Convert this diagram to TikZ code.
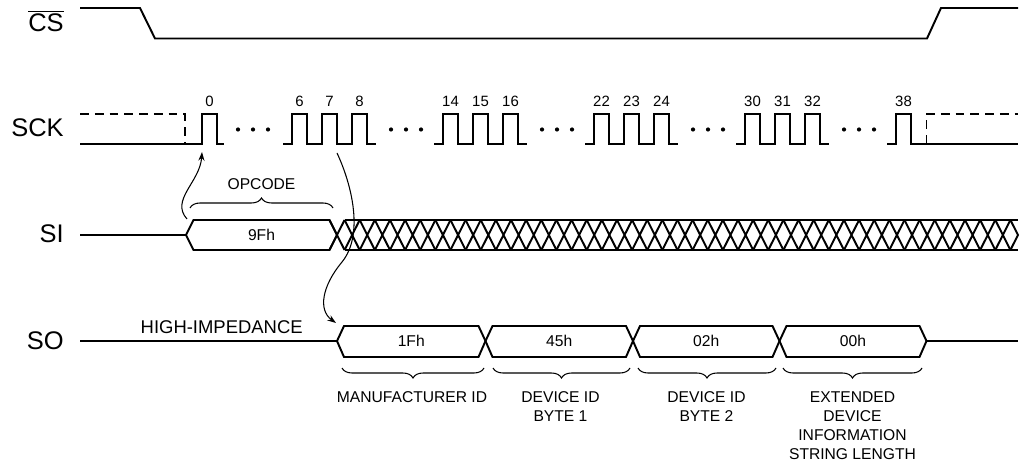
\documentclass[tikz,border=0pt]{standalone}
\usepackage{fontspec}
\setmainfont{Liberation Sans}
\usepackage{tikz}
\usetikzlibrary{arrows.meta,decorations.pathreplacing,positioning}

\begin{document}
\begin{tikzpicture}[
    x=0.02cm, y=-0.02cm,
    wave/.style={line width=1.1pt, line join=miter},
    hiz/.style={line width=1.1pt, dash pattern=on 5pt off 3.4pt},
    sig/.style={anchor=base east, inner sep=0pt, font=\fontsize{14.5}{17}\selectfont},
    num/.style={anchor=base, font=\fontsize{8.5}{10}\selectfont},
    lbl/.style={font=\fontsize{8.9}{10.8}\selectfont, align=center},
    brc/.style={decorate, decoration={brace, amplitude=5.7pt}, line width=0.6pt},
    link/.style={-{Stealth[length=5pt, width=3.5pt]}, line width=0.6pt}
]
\useasboundingbox (0,0) rectangle (1021,462);

\node[sig] (cs) at (64,31.5) {$\overline{\hbox{CS}}$};
\node[sig] (sck) at (64,136.5) {SCK};
\node[sig] (si) at (64,242.5) {SI};
\node[sig] (so) at (64,350) {SO};

\draw[wave] (80,8) -- (140,8) -- (155,38.5) -- (927,38.5) -- (941,8) -- (1018,8);

\draw[hiz] (80,114) -- (185,114) -- (185,144);
\draw[wave] (80,144) -- (202,144) -- (202,114) -- (217,114) -- (217,144) -- (224,144);
\node[num] (n0) at (209.5,107) {0};
\foreach \c/\a/\b/\d in {299.5/6/7/8, 450.5/14/15/16, 601.5/22/23/24, 752.5/30/31/32} {
    \draw[wave] (\c-16.5,144) \foreach \k in {0,30,60} {
        -- (\c+\k-7.5,144) -- (\c+\k-7.5,114) -- (\c+\k+7.5,114) -- (\c+\k+7.5,144)
    } -- (\c+76.5,144);
    \node[num] (n\a) at (\c,107) {\a};
    \node[num] (n\b) at (\c+30,107) {\b};
    \node[num] (n\d) at (\c+60,107) {\d};
}
\draw[wave] (887,144) -- (896,144) -- (896,114) -- (911,114) -- (911,144) -- (1018,144);
\draw[hiz] (926.5,144) -- (926.5,114) -- (1018,114);
\node[num] (n38) at (903.5,107) {38};
\foreach \x in {238,253,268,391,406,421,542,557,572,693,708,723,844,859,874}
    \fill (\x,129.5) circle[radius=2.1];

\draw[wave] (80,235) -- (186,235);
\draw[wave] (186,235) -- (193.5,220) -- (329.5,220) -- (337,235) -- (329.5,250) -- (193.5,250) -- cycle;
\foreach \k in {0,...,44}
    \draw[wave] (337+15.133*\k-7.567,220) -- (337+15.133*\k+7.567,250)
                (337+15.133*\k-7.567,250) -- (337+15.133*\k+7.567,220);
\draw[wave] (344.6,220) -- (1018,220) (344.6,250) -- (1018,250);
\draw[wave] (1010.4,220) -- (1018,235) -- (1010.4,250);
\node[lbl] (op) at (261.5,235) {9Fh};
\draw[brc] (190,208) -- (333,208);
\node[lbl, anchor=base] (opcode) at (261.5,190) {OPCODE};

\draw[wave] (80,341) -- (337,341);
\foreach \a/\b/\v [count=\i] in {337/485.5/1Fh, 485.5/633/45h, 633/779.5/02h, 779.5/926.5/00h} {
    \draw[wave] (\a,341) -- (\a+7,326) -- (\b-7,326) -- (\b,341) -- (\b-7,357) -- (\a+7,357) -- cycle;
    \node[lbl] (so\i) at ({(\a+\b)/2},341) {\v};
}
\draw[wave] (926.5,341) -- (1018,341);
\node[anchor=base, font=\fontsize{10.5}{12}\selectfont] (hiimp) at (221.7,334) {HIGH-IMPEDANCE};

\foreach \a/\b in {342/484, 493/630, 638/776, 783/922}
    \draw[brc, decoration={mirror}] (\a,368) -- (\b,368);
\node[lbl, anchor=north, inner sep=0pt] (manid) at (412,391) {MANUFACTURER ID};
\node[lbl, anchor=north, inner sep=0pt] (dev1) at (560.5,391) {DEVICE ID\\BYTE 1};
\node[lbl, anchor=north, inner sep=0pt] (dev2) at (706.5,391) {DEVICE ID\\BYTE 2};
\node[lbl, anchor=north, inner sep=0pt] (ext) at (852.5,391) {EXTENDED\\DEVICE\\INFORMATION\\STRING LENGTH};

\coordinate (clk0) at (202,152);
\coordinate (siin) at (187,219);
\coordinate (clk7) at (337,153);
\coordinate (soin) at (336,323);
\draw[link] (siin) .. controls (170,200) and (200,182) .. (clk0);
\draw[link] (clk7) .. controls (352,185) and (364,235) .. (342,262) .. controls (322,286) and (318,310) .. (soin);

\end{tikzpicture}
\end{document}
